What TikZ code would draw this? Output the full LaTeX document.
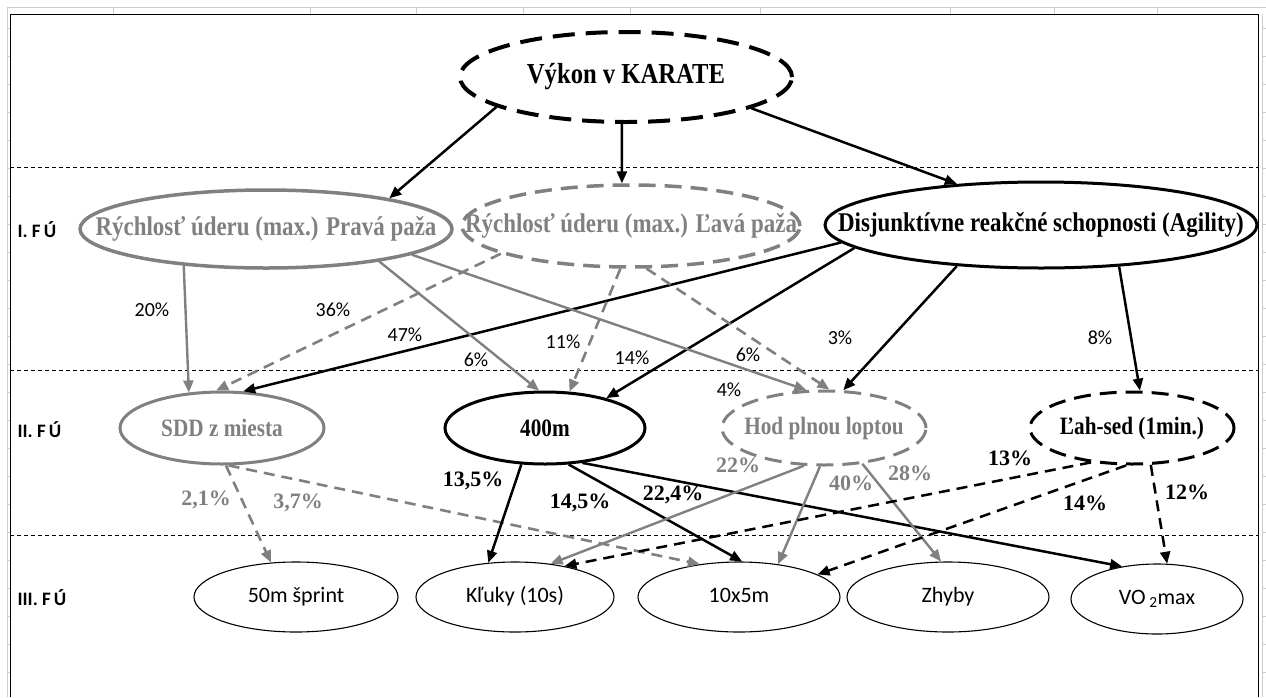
\documentclass[tikz,border=0pt]{standalone}
\usepackage{fontspec}
\usepackage{tikz}
\usetikzlibrary{positioning}
\usetikzlibrary{calc}
\usetikzlibrary{shapes.geometric, arrows.meta}
\setmainfont{Liberation Serif}
\newfontfamily\timescond[FakeStretch=0.85]{Liberation Serif}
\newfontfamily\calibri{Carlito}
\definecolor{fugray}{RGB}{128,128,128}
\newcommand{\fulbl}[1]{\makebox[0pt]{#1}}
\tikzstyle{oval} = [ellipse, inner sep=0pt]
\tikzstyle{rowone} = [font=\timescond\bfseries\fontsize{27}{30}\selectfont]
\tikzstyle{rowtwo} = [font=\timescond\bfseries\fontsize{25}{28}\selectfont]
\tikzstyle{greyoval} = [oval, draw=fugray, text=fugray, line width=3.5pt]
\tikzstyle{greydashoval} = [greyoval, dash pattern=on 17pt off 9pt]
\tikzstyle{blackoval} = [oval, draw=black, line width=3pt]
\tikzstyle{blackdashoval} = [blackoval, dash pattern=on 17pt off 9pt]
\tikzstyle{testoval} = [oval, draw=black, line width=1.1pt, text height=14pt, text depth=3pt,
    font=\calibri\fontsize{22}{26}\selectfont]
\tikzstyle{level} = [anchor=west, font=\calibri\bfseries\fontsize{19}{22}\selectfont]
\tikzstyle{sep} = [line width=0.8pt, dash pattern=on 4pt off 3pt]
\tikzstyle{grid} = [draw=gray!40, line width=1pt]
\tikzstyle{arrow} = [line width=2.5pt, -{Triangle[length=12pt,width=10pt]}]
\tikzstyle{greyarrow} = [arrow, draw=fugray, line width=2.4pt]
\tikzstyle{greydasharrow} = [greyarrow, line width=2.6pt, dash pattern=on 11pt off 7pt]
\tikzstyle{dasharrow} = [arrow, dash pattern=on 11pt off 7pt]
\tikzstyle{pct} = [font=\calibri\fontsize{20}{22}\selectfont]
\tikzstyle{bpct} = [font=\bfseries\fontsize{22}{24}\selectfont]
\tikzstyle{gbpct} = [bpct, text=fugray]

\begin{document}
\begin{tikzpicture}[x=1pt, y=-1pt]
    \useasboundingbox (0,0) rectangle (1266,697);

    % --- sheet grid and frame ---
    \draw[grid] (7,697) -- (7,7) -- (1266,7);
    \draw[grid] (1262,14) -- (1262,697);
    \foreach \gx in {113,310,416,523,630,760,950,1054,1157}
        \draw[grid] (\gx,7) -- (\gx,14);
    \foreach \gy in {28,56,...,690} {
        \draw[grid] (7,\gy) -- (10,\gy);
        \draw[grid] (1262,\gy) -- (1266,\gy);
    }
    \draw[line width=1pt] (10,697) -- (10,14) -- (1258,14) -- (1258,697);

    % separators between the levels
    \draw[sep] (10,167) -- (1258,167);
    \draw[sep] (10,370) -- (1258,370);
    \draw[sep] (10,535) -- (1258,535);

    % level names on the left
    \node[level] at (14,230) (lvl_one) {I. F\,Ú};
    \node[level] at (14,430) (lvl_two) {II. F\,Ú};
    \node[level] at (14,598) (lvl_three) {III. F\,Ú};

    % --- top: performance ---
    \node[
        oval, draw=black, line width=4pt, dash pattern=on 22pt off 11pt,
        minimum width=332pt, minimum height=90pt,
        font=\timescond\bfseries\fontsize{29}{32}\selectfont
    ] at (626,77) (vykon) {\fulbl{Výkon v KARATE}};

    % --- I. level ---
    \node[greyoval, rowone, minimum width=372pt, minimum height=78pt]
        at (266,229) (prava) {\fulbl{Rýchlosť úderu (max.) Pravá paža}};
    \node[greydashoval, rowone, minimum width=338pt, minimum height=82pt]
        at (631,226) (lava) {\fulbl{Rýchlosť úderu (max.) Ľavá paža}};
    \node[blackoval, rowone, minimum width=432pt, minimum height=86pt]
        at (1041,225) (agility) {\fulbl{Disjunktívne reakčné schopnosti (Agility)}};

    % --- II. level ---
    \node[greyoval, rowtwo, line width=3pt, minimum width=204pt, minimum height=72pt]
        at (222,428) (sdd) {\fulbl{SDD z miesta}};
    \node[blackoval, rowtwo, minimum width=200pt, minimum height=72pt]
        at (545,428) (beh) {\fulbl{400m}};
    \node[greydashoval, rowtwo, line width=3pt, minimum width=204pt, minimum height=74pt]
        at (824,428) (hod) {\fulbl{Hod plnou loptou}};
    \node[blackdashoval, rowtwo, minimum width=204pt, minimum height=72pt]
        at (1132,428) (lahsed) {\fulbl{Ľah-sed (1min.)}};

    % --- III. level ---
    \node[testoval, minimum width=204pt, minimum height=70pt] at (296,597) (sprint) {50m šprint};
    \node[testoval, minimum width=198pt, minimum height=70pt] at (515,597) (kluky) {Kľuky (10s)};
    \node[testoval, minimum width=202pt, minimum height=70pt] at (739,597) (desat) {10x5m};
    \node[testoval, minimum width=202pt, minimum height=70pt] at (948,597) (zhyby) {Zhyby};
    \node[testoval, minimum width=172pt, minimum height=70pt] at (1157,599) (vodva) {VO\,\textsubscript{2}max};

    % arrows from the top
    \draw[arrow] (vykon.193) -- (prava.14);
    \draw[arrow] (vykon.265) -- (lava.102);
    \draw[arrow] (vykon.346) -- (agility.154);

    % arrows from I. level to II. level
    \draw[greyarrow] (prava.204) -- (sdd.133);
    \draw[greydasharrow] (lava.192) -- (sdd.99);
    \draw[arrow] (agility.185) -- (sdd.60);
    \draw[greyarrow] (prava.344) -- (beh.99);
    \draw[greydasharrow] (lava.256) -- (beh.56);
    \draw[arrow] (agility.187) -- (beh.26);
    \draw[greyarrow] (prava.350) -- (hod.115);
    \draw[greydasharrow] (lava.290) -- (hod.82);
    \draw[arrow] (agility.206) -- (hod.63);
    \draw[arrow] (agility.332) -- (lahsed.78);

    % percentages between I. and II. level
    \node[pct] at (152,310) (p_sdd_a) {20\%};
    \node[pct] at (333,310) (p_sdd_b) {36\%};
    \node[pct] at (405,335) (p_sdd_c) {47\%};
    \node[pct] at (476,360) (p_beh_a) {6\%};
    \node[pct] at (563,342) (p_beh_b) {11\%};
    \node[pct] at (632,358) (p_beh_c) {14\%};
    \node[pct] at (748,355) (p_hod_a) {6\%};
    \node[pct] at (729,390) (p_hod_b) {4\%};
    \node[pct] at (840,338) (p_hod_c) {3\%};
    \node[pct] at (1100,338) (p_lah) {8\%};

    % arrows from II. level to III. level
    \draw[greydasharrow] (sdd.276) -- (sprint.126);
    \draw[greydasharrow] (sdd.280) -- (desat.140);
    \draw[arrow] (beh.237) -- (kluky.128);
    \draw[arrow] (beh.303) -- (desat.85);
    \draw[arrow] (beh.317) -- (vodva.137);
    \draw[greyarrow] (hod.242) -- (kluky.43);
    \draw[greyarrow] (hod.264) -- (desat.40);
    \draw[greyarrow] (hod.317) -- (zhyby.101);
    \draw[dasharrow] (lahsed.220) -- (kluky.32);
    \draw[dasharrow] (lahsed.261) -- (desat.16);
    \draw[dasharrow] (lahsed.297) -- (vodva.74);

    % percentages between II. and III. level
    \node[gbpct] at (206,500) (q_sprint) {2,1\%};
    \node[gbpct] at (298,503) (q_desat) {3,7\%};
    \node[bpct] at (473,481) (q_beh_a) {13,5\%};
    \node[bpct] at (580,503) (q_beh_b) {14,5\%};
    \node[bpct] at (673,495) (q_beh_c) {22,4\%};
    \node[gbpct] at (738,465) (q_hod_a) {22\%};
    \node[gbpct] at (851,483) (q_hod_b) {40\%};
    \node[gbpct] at (910,473) (q_hod_c) {28\%};
    \node[bpct] at (1010,458) (q_lah_a) {13\%};
    \node[bpct] at (1085,503) (q_lah_b) {14\%};
    \node[bpct] at (1187,492) (q_lah_c) {12\%};

\end{tikzpicture}
\end{document}
